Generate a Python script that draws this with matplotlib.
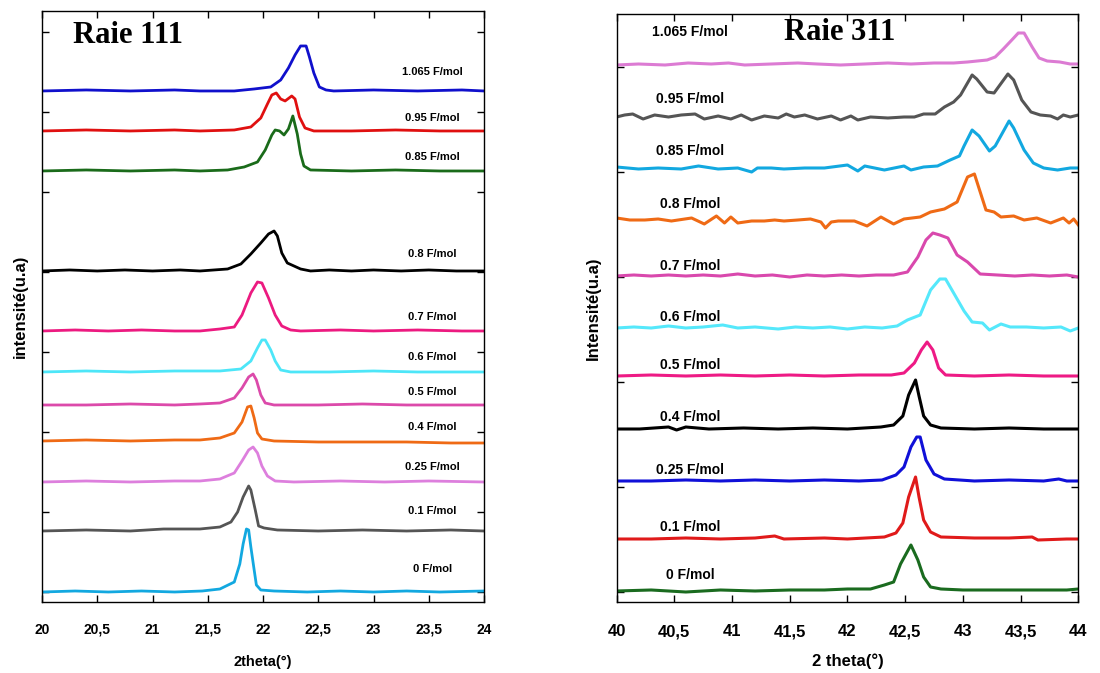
import matplotlib
matplotlib.use("Agg")
import matplotlib.pyplot as plt

# ---------------- Raie 111 (left panel) ----------------
labels_111 = ["0 F/mol", "0.1 F/mol", "0.25 F/mol", "0.4 F/mol", "0.5 F/mol", "0.6 F/mol",
              "0.7 F/mol", "0.8 F/mol", "0.85 F/mol", "0.95 F/mol", "1.065 F/mol"]
colors_111 = ["#12a8e0", "#555555", "#dd7fdd", "#ef6a15", "#dc4aaa", "#4de6f8",
              "#ec1a80", "#000000", "#1a6b1a", "#e01010", "#1010cc"]
offsets_111 = [0, 610, 1100, 1510, 1870, 2200, 2610, 3210, 4210, 4610, 5010]
label_y_111 = [230, 810, 1250, 1650, 2000, 2350, 2750, 3380, 4350, 4740, 5200]

x111_0 = [20.0, 20.3, 20.6, 20.9, 21.2, 21.45, 21.61, 21.74, 21.79, 21.82, 21.85, 21.87, 21.89,
          21.92, 21.94, 21.98, 22.1, 22.4, 22.7, 23.0, 23.3, 23.6, 24.0]
h111_0 = [0, 10, 0, 10, 0, 10, 30, 100, 280, 480, 630, 620, 450, 220, 70, 20, 10, 0, 10, 0, 10,
          0, 10]

x111_01 = [20.0, 20.4, 20.8, 21.1, 21.43, 21.61, 21.71, 21.77, 21.82, 21.87, 21.89, 21.93, 21.96,
           22.01, 22.13, 22.5, 22.9, 23.3, 23.7, 24.0]
h111_01 = [0, 10, 0, 20, 20, 40, 90, 190, 340, 450, 410, 210, 50, 30, 10, 0, 10, 0, 10, 0]

x111_025 = [20.0, 20.4, 20.8, 21.2, 21.43, 21.61, 21.74, 21.81, 21.87, 21.91, 21.95, 21.99, 22.04,
            22.11, 22.28, 22.7, 23.1, 23.5, 24.0]
h111_025 = [0, 10, 0, 10, 10, 30, 90, 210, 320, 350, 290, 160, 60, 10, 0, 10, 0, 10, 0]

x111_04 = [20.0, 20.4, 20.8, 21.2, 21.43, 21.61, 21.74, 21.81, 21.86, 21.89, 21.92, 21.95, 21.99,
           22.10, 22.5, 22.9, 23.3, 23.7, 24.0]
h111_04 = [0, 10, 0, 10, 10, 30, 80, 190, 340, 350, 230, 80, 20, 0, -10, -10, -10, -20, -20]

x111_05 = [20.0, 20.4, 20.8, 21.2, 21.43, 21.61, 21.74, 21.81, 21.87, 21.91, 21.94, 21.98, 22.02,
           22.10, 22.5, 22.9, 23.3, 23.7, 24.0]
h111_05 = [0, 0, 10, 0, 10, 20, 70, 170, 280, 310, 250, 100, 20, 0, 0, 10, 0, 0, 0]

x111_06 = [20.0, 20.4, 20.8, 21.2, 21.61, 21.80, 21.89, 21.95, 21.99, 22.02, 22.07, 22.11, 22.16,
           22.25, 22.6, 23.0, 23.4, 23.8, 24.0]
h111_06 = [0, 10, 0, 10, 10, 30, 110, 240, 320, 320, 220, 110, 20, 0, 0, 10, 0, 0, 0]

x111_07 = [20.0, 20.3, 20.6, 20.9, 21.2, 21.43, 21.61, 21.74, 21.81, 21.89, 21.95, 21.99, 22.05,
           22.11, 22.17, 22.25, 22.34, 22.7, 23.0, 23.4, 23.8, 24.0]
h111_07 = [0, 10, 0, 10, 0, 0, 20, 40, 160, 380, 490, 480, 330, 160, 50, 10, 0, 10, 0, 10, 0, 0]

x111_08 = [20.0, 20.25, 20.5, 20.75, 21.0, 21.25, 21.43, 21.68, 21.80, 21.89, 21.98, 22.05, 22.10,
           22.13, 22.17, 22.22, 22.28, 22.34, 22.43, 22.6, 22.8, 23.0, 23.25, 23.5, 23.75, 24.0]
h111_08 = [0, 10, 0, 10, 0, 10, 0, 20, 70, 170, 280, 370, 400, 350, 180, 80, 50, 20, 0, 10, 0,
           10, 0, 10, 0, 0]

x111_085 = [20.0, 20.4, 20.8, 21.2, 21.43, 21.68, 21.83, 21.95, 22.02, 22.08, 22.11, 22.15, 22.19,
            22.23, 22.27, 22.31, 22.34, 22.37, 22.43, 22.8, 23.2, 23.6, 24.0]
h111_085 = [0, 10, 0, 10, 0, 10, 40, 90, 210, 360, 410, 400, 360, 420, 550, 370, 170, 50, 10, 0,
            10, 0, 0]

x111_095 = [20.0, 20.4, 20.8, 21.2, 21.43, 21.74, 21.89, 21.98, 22.04, 22.08, 22.12, 22.16, 22.20,
            22.26, 22.29, 22.33, 22.38, 22.46, 22.8, 23.2, 23.6, 24.0]
h111_095 = [0, 10, 0, 10, 0, 10, 40, 130, 270, 360, 380, 320, 300, 350, 320, 140, 30, 0, 0, 10,
            0, 0]

x111_1065 = [20.0, 20.4, 20.8, 21.2, 21.43, 21.74, 21.92, 22.07, 22.16, 22.23, 22.29, 22.34, 22.39,
             22.42, 22.46, 22.51, 22.57, 22.64, 23.0, 23.4, 23.8, 24.0]
h111_1065 = [0, 10, 0, 10, 0, 0, 20, 40, 110, 230, 360, 450, 450, 340, 180, 40, 10, 0, 10, 0, 10,
             0]

# ---------------- Raie 311 (right panel) ----------------
labels_311 = labels_111
colors_311 = ["#1a6b1f", "#e01a1a", "#1010d8", "#000000", "#ee1a85", "#55e8fb",
              "#d948ad", "#ef6a15", "#12a8e0", "#555555", "#dc7bd3"]
offsets_311 = [10, 530, 1110, 1630, 2160, 2640, 3160, 3720, 4240, 4750, 5270]
label_y_311 = [170, 650, 1220, 1750, 2270, 2750, 3260, 3880, 4410, 4930, 5600]

x311_0 = [40.0, 40.3, 40.6, 40.9, 41.2, 41.5, 41.8, 42.0, 42.20, 42.32, 42.40, 42.46, 42.55, 42.61,
          42.66, 42.72, 42.81, 43.0, 43.3, 43.6, 43.9, 44.0]
h311_0 = [0, 10, -10, 10, 0, 10, 10, 20, 20, 60, 90, 270, 460, 310, 140, 40, 20, 10, 10, 10, 10, 20]

x311_01 = [40.0, 40.3, 40.6, 40.9, 41.2, 41.37, 41.45, 41.8, 42.0, 42.32, 42.42, 42.48, 42.53,
           42.59, 42.62, 42.66, 42.72, 42.81, 43.1, 43.4, 43.6, 43.65, 43.9, 44.0]
h311_01 = [0, 0, 10, 0, 10, 30, 0, 10, 0, 20, 60, 160, 420, 620, 420, 190, 70, 20, 10, 10, 20, -10,
           0, 0]

x311_025 = [40.0, 40.3, 40.6, 40.9, 41.2, 41.5, 41.8, 42.1, 42.30, 42.42, 42.49, 42.55, 42.60,
            42.63, 42.68, 42.75, 42.84, 43.1, 43.4, 43.7, 43.83, 43.9, 44.0]
h311_025 = [0, 0, 10, 0, 10, 0, 10, 0, 10, 60, 140, 340, 440, 440, 210, 70, 20, 0, 10, 0, 20, 0, 0]

x311_04 = [40.0, 40.2, 40.45, 40.52, 40.6, 40.8, 41.1, 41.4, 41.7, 42.0, 42.29, 42.40, 42.48,
           42.53, 42.59, 42.62, 42.66, 42.72, 42.81, 43.1, 43.4, 43.7, 44.0]
h311_04 = [0, 0, 20, -10, 20, 0, 10, 0, 10, 0, 20, 40, 130, 340, 490, 330, 130, 40, 10, 0, 10, 0, 0]

x311_05 = [40.0, 40.3, 40.6, 40.9, 41.2, 41.5, 41.8, 42.1, 42.38, 42.49, 42.58, 42.64, 42.69,
           42.74, 42.79, 42.85, 43.1, 43.4, 43.7, 44.0]
h311_05 = [0, 10, 0, 10, 0, 10, 0, 10, 10, 30, 130, 260, 340, 260, 80, 10, 0, 10, 0, 0]

x311_06 = [40.0, 40.15, 40.3, 40.45, 40.6, 40.75, 40.92, 41.05, 41.2, 41.4, 41.55, 41.7, 41.85,
           42.0, 42.15, 42.3, 42.43, 42.52, 42.63, 42.72, 42.80, 42.85, 42.92, 43.01, 43.08,
           43.17, 43.23, 43.33, 43.41, 43.55, 43.7, 43.85, 43.93, 44.0]
h311_06 = [0, 10, 0, 20, 0, 10, 30, 0, 10, -10, 10, 0, 10, -10, 10, 0, 20, 80, 130, 380, 490, 490,
           350, 170, 60, 50, -20, 40, 10, 10, 0, 10, -30, 0]

x311_07 = [40.0, 40.15, 40.3, 40.45, 40.6, 40.75, 40.9, 41.05, 41.2, 41.35, 41.5, 41.65, 41.8,
           41.95, 42.1, 42.25, 42.40, 42.52, 42.61, 42.68, 42.74, 42.80, 42.87, 42.95, 43.04,
           43.15, 43.3, 43.45, 43.6, 43.75, 43.9, 44.0]
h311_07 = [0, 10, 0, 10, 0, 10, 0, 20, 0, 10, -10, 10, 0, 10, 0, 10, 10, 40, 190, 360, 430, 410,
           380, 210, 140, 20, 10, 0, 10, 0, 10, -10]

x311_08 = [40.00, 40.115, 40.245, 40.36, 40.475, 40.65, 40.76, 40.865, 40.935, 40.99, 41.05, 41.17,
           41.28, 41.37, 41.45, 41.57, 41.68, 41.77, 41.81, 41.86, 41.92, 42.06, 42.17, 42.29,
           42.40, 42.49, 42.63, 42.72, 42.84, 42.95, 43.04, 43.10, 43.20, 43.27, 43.33, 43.44,
           43.53, 43.64, 43.76, 43.87, 43.92, 43.96, 44.00]
h311_08 = [20, 0, 0, 10, -10, 20, -40, 40, -30, 30, -30, -10, -10, 0, -10, 0, 10, -20, -80, -20,
           -10, -10, -60, 30, -40, 10, 30, 80, 110, 180, 430, 460, 100, 80, 30, 40, 0, 20, -30,
           20, -30, 10, -50]

x311_085 = [40.00, 40.19, 40.36, 40.56, 40.71, 40.88, 41.05, 41.17, 41.22, 41.34, 41.45, 41.63,
            41.80, 42.00, 42.09, 42.15, 42.32, 42.49, 42.55, 42.66, 42.78, 42.89, 42.97, 43.01,
            43.08, 43.14, 43.23, 43.28, 43.40, 43.44, 43.53, 43.61, 43.70, 43.82, 43.93, 44.00]
h311_085 = [10, -10, 0, -10, 20, -10, 0, -40, 0, 0, -10, 0, 0, 30, -30, 20, -20, 20, -20, 10, 20,
            80, 120, 220, 380, 320, 170, 220, 470, 400, 180, 50, 0, -20, 0, 0]

x311_095 = [40.00, 40.07, 40.14, 40.23, 40.33, 40.45, 40.56, 40.68, 40.76, 40.88, 40.99, 41.08,
            41.17, 41.28, 41.40, 41.47, 41.54, 41.63, 41.74, 41.86, 41.94, 42.03, 42.09, 42.20,
            42.35, 42.49, 42.58, 42.66, 42.76, 42.84, 42.92, 42.98, 43.08, 43.12, 43.21, 43.27,
            43.39, 43.44, 43.51, 43.59, 43.67, 43.76, 43.82, 43.87, 43.93, 44.00]
h311_095 = [0, 20, 30, -20, 20, 0, 20, 30, -20, 10, -20, 20, -30, 10, -10, 30, 0, 20, -20, 10, -30,
            10, -30, 0, -10, 0, 0, 30, 30, 100, 150, 220, 420, 380, 250, 240, 430, 370, 170, 50,
            20, 10, -20, 20, 0, 20]

x311_1065 = [40.00, 40.19, 40.42, 40.62, 40.82, 40.97, 41.11, 41.34, 41.57, 41.74, 41.94, 42.15,
             42.35, 42.55, 42.75, 42.92, 43.04, 43.21, 43.28, 43.35, 43.44, 43.48, 43.53, 43.60,
             43.66, 43.73, 43.84, 43.93, 44.00]
h311_1065 = [0, 10, 0, 20, 10, 20, 0, 10, 20, 10, 0, 10, 20, 10, 20, 20, 30, 50, 80, 160, 270, 320,
             320, 180, 70, 40, 30, 10, 10]

curves_111 = [(x111_0, h111_0), (x111_01, h111_01), (x111_025, h111_025), (x111_04, h111_04),
              (x111_05, h111_05), (x111_06, h111_06), (x111_07, h111_07), (x111_08, h111_08),
              (x111_085, h111_085), (x111_095, h111_095), (x111_1065, h111_1065)]
curves_311 = [(x311_0, h311_0), (x311_01, h311_01), (x311_025, h311_025), (x311_04, h311_04),
              (x311_05, h311_05), (x311_06, h311_06), (x311_07, h311_07), (x311_08, h311_08),
              (x311_085, h311_085), (x311_095, h311_095), (x311_1065, h311_1065)]

xticks_111 = [20, 20.5, 21, 21.5, 22, 22.5, 23, 23.5, 24]
xticklabels_111 = ["20", "20,5", "21", "21,5", "22", "22,5", "23", "23,5", "24"]
xticks_311 = [40, 40.5, 41, 41.5, 42, 42.5, 43, 43.5, 44]
xticklabels_311 = ["40", "40,5", "41", "41,5", "42", "42,5", "43", "43,5", "44"]

sans = ["Liberation Sans", "DejaVu Sans"]
serif = ["Liberation Serif", "DejaVu Serif"]

fig = plt.figure(figsize=(11, 6.73), dpi=100)
ax1 = fig.add_axes([0.0382, 0.1055, 0.4018, 0.8782])
ax2 = fig.add_axes([0.5605, 0.1055, 0.4198, 0.8737])

# left panel
for (xs, hs), off, col in zip(curves_111, offsets_111, colors_111):
    ax1.plot(xs, [h + off for h in hs], color=col, linewidth=2.0)
for lab, ly in zip(labels_111, label_y_111):
    ax1.text(23.53, ly, lab, ha="center", va="center", fontsize=8, fontweight="bold",
             family=sans)
ax1.text(0.07, 0.959, "Raie 111", transform=ax1.transAxes, ha="left", va="center",
         fontsize=22, fontweight="bold", family=serif)
ax1.set_xlim(20, 24)
ax1.set_ylim(-100, 5810)
ax1.set_xticks(xticks_111)
ax1.set_xticklabels(xticklabels_111, fontsize=10, fontweight="bold", family=sans)
ax1.set_yticks([0, 800, 1600, 2400, 3200, 4000, 4800, 5600])
ax1.set_yticklabels([])
ax1.set_xlabel("2theta(°)", fontsize=10.5, fontweight="bold", family=sans, labelpad=13)
ax1.set_ylabel("intensité(u.a)", fontsize=12, fontweight="bold", family=sans, labelpad=7)
ax1.tick_params(axis="x", pad=15)

# right panel
for (xs, hs), off, col in zip(curves_311, offsets_311, colors_311):
    ax2.plot(xs, [h + off for h in hs], color=col, linewidth=2.2)
for lab, ly in zip(labels_311, label_y_311):
    ax2.text(40.64, ly, lab, ha="center", va="center", fontsize=10, fontweight="bold",
             family=sans)
ax2.text(0.363, 0.968, "Raie 311", transform=ax2.transAxes, ha="left", va="center",
         fontsize=22, fontweight="bold", family=serif)
ax2.set_xlim(40, 44)
ax2.set_ylim(-100, 5780)
ax2.set_xticks(xticks_311)
ax2.set_xticklabels(xticklabels_311, fontsize=12, fontweight="bold", family=sans)
ax2.set_yticks([0, 1050, 2100, 3150, 4200, 5250])
ax2.set_yticklabels([])
ax2.set_xlabel("2 theta(°)", fontsize=12, fontweight="bold", family=sans, labelpad=10)
ax2.set_ylabel("Intensité(u.a)", fontsize=12, fontweight="bold", family=sans, labelpad=8)
ax2.tick_params(axis="x", pad=16)

for ax in (ax1, ax2):
    ax.tick_params(direction="in", top=True, right=True, length=5, width=1)
    for sp in ax.spines.values():
        sp.set_linewidth(1.0)
        sp.set_color("black")

fig.savefig("out.png", dpi=100)
